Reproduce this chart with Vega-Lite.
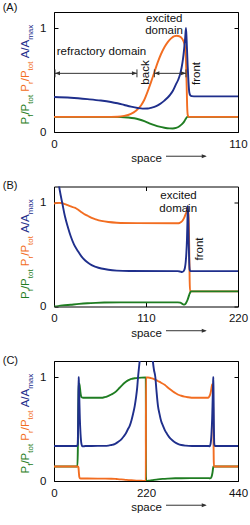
{
  "$schema": "https://vega.github.io/schema/vega-lite/v6.json",
  "padding": {"left": 2, "top": 1, "right": 2, "bottom": 2},
  "background": "white",
  "config": {
    "view": {"stroke": "#000", "strokeWidth": 1},
    "font": "Liberation Sans",
    "axis": {"grid": false, "domain": false, "tickColor": "#000", "tickSize": -4, "labelFont": "Liberation Sans", "labelFontSize": 11.5, "labelColor": "#111", "titleFont": "Liberation Sans", "titleFontSize": 11.5, "titleFontWeight": "normal", "titleColor": "#111", "labelOverlap": false, "labelFlush": false, "format": "d"},
    "text": {"font": "Liberation Sans"}
  },
  "datasets": {
    "curves": [
      {"p":"A","s":"Pf","x":0,"y":0.145},{"p":"A","s":"Pf","x":20,"y":0.145},{"p":"A","s":"Pf","x":36,"y":0.145},{"p":"A","s":"Pf","x":40,"y":0.144},{"p":"A","s":"Pf","x":44,"y":0.14},{"p":"A","s":"Pf","x":48,"y":0.132},{"p":"A","s":"Pf","x":51,"y":0.12},{"p":"A","s":"Pf","x":54,"y":0.104},{"p":"A","s":"Pf","x":57,"y":0.084},{"p":"A","s":"Pf","x":60,"y":0.066},{"p":"A","s":"Pf","x":63,"y":0.051},{"p":"A","s":"Pf","x":66,"y":0.041},{"p":"A","s":"Pf","x":69,"y":0.035},{"p":"A","s":"Pf","x":71,"y":0.034},{"p":"A","s":"Pf","x":73,"y":0.039},{"p":"A","s":"Pf","x":75,"y":0.055},{"p":"A","s":"Pf","x":76.5,"y":0.075},{"p":"A","s":"Pf","x":77.8,"y":0.1},{"p":"A","s":"Pf","x":78.8,"y":0.127},{"p":"A","s":"Pf","x":79.6,"y":0.145},{"p":"A","s":"Pf","x":110,"y":0.145},
      {"p":"A","s":"Pr","x":0,"y":0.145},{"p":"A","s":"Pr","x":30,"y":0.145},{"p":"A","s":"Pr","x":38,"y":0.147},{"p":"A","s":"Pr","x":42,"y":0.155},{"p":"A","s":"Pr","x":46,"y":0.175},{"p":"A","s":"Pr","x":49,"y":0.205},{"p":"A","s":"Pr","x":52,"y":0.255},{"p":"A","s":"Pr","x":54,"y":0.31},{"p":"A","s":"Pr","x":56,"y":0.39},{"p":"A","s":"Pr","x":58,"y":0.48},{"p":"A","s":"Pr","x":60,"y":0.575},{"p":"A","s":"Pr","x":62,"y":0.67},{"p":"A","s":"Pr","x":64,"y":0.75},{"p":"A","s":"Pr","x":66,"y":0.815},{"p":"A","s":"Pr","x":68,"y":0.865},{"p":"A","s":"Pr","x":70,"y":0.9},{"p":"A","s":"Pr","x":72,"y":0.922},{"p":"A","s":"Pr","x":73.5,"y":0.926},{"p":"A","s":"Pr","x":75,"y":0.92},{"p":"A","s":"Pr","x":76.5,"y":0.9},{"p":"A","s":"Pr","x":77.6,"y":0.865},{"p":"A","s":"Pr","x":78.3,"y":0.82},{"p":"A","s":"Pr","x":78.9,"y":0.68},{"p":"A","s":"Pr","x":79.3,"y":0.45},{"p":"A","s":"Pr","x":79.6,"y":0.25},{"p":"A","s":"Pr","x":80,"y":0.16},{"p":"A","s":"Pr","x":80.5,"y":0.145},{"p":"A","s":"Pr","x":110,"y":0.145},
      {"p":"A","s":"A","x":0,"y":0.336},{"p":"A","s":"A","x":10,"y":0.329},{"p":"A","s":"A","x":20,"y":0.316},{"p":"A","s":"A","x":28,"y":0.303},{"p":"A","s":"A","x":34,"y":0.289},{"p":"A","s":"A","x":38,"y":0.276},{"p":"A","s":"A","x":42,"y":0.26},{"p":"A","s":"A","x":46,"y":0.244},{"p":"A","s":"A","x":50,"y":0.231},{"p":"A","s":"A","x":53,"y":0.225},{"p":"A","s":"A","x":56,"y":0.226},{"p":"A","s":"A","x":58,"y":0.232},{"p":"A","s":"A","x":60,"y":0.242},{"p":"A","s":"A","x":62,"y":0.256},{"p":"A","s":"A","x":64,"y":0.276},{"p":"A","s":"A","x":66,"y":0.302},{"p":"A","s":"A","x":68,"y":0.332},{"p":"A","s":"A","x":69.5,"y":0.36},{"p":"A","s":"A","x":71,"y":0.395},{"p":"A","s":"A","x":72.9,"y":0.458},{"p":"A","s":"A","x":74.2,"y":0.5},{"p":"A","s":"A","x":75.3,"y":0.55},{"p":"A","s":"A","x":76.3,"y":0.62},{"p":"A","s":"A","x":77.1,"y":0.7},{"p":"A","s":"A","x":77.8,"y":0.8},{"p":"A","s":"A","x":78.4,"y":0.9},{"p":"A","s":"A","x":78.9,"y":1.0},{"p":"A","s":"A","x":79.3,"y":0.88},{"p":"A","s":"A","x":79.9,"y":0.64},{"p":"A","s":"A","x":80.4,"y":0.48},{"p":"A","s":"A","x":80.9,"y":0.38},{"p":"A","s":"A","x":81.5,"y":0.352},{"p":"A","s":"A","x":82.3,"y":0.345},{"p":"A","s":"A","x":85,"y":0.343},{"p":"A","s":"A","x":110,"y":0.343},
      {"p":"B","s":"Pr","x":0,"y":0.99},{"p":"B","s":"Pr","x":4,"y":0.997},{"p":"B","s":"Pr","x":8.8,"y":0.995},{"p":"B","s":"Pr","x":13,"y":0.985},{"p":"B","s":"Pr","x":17,"y":0.972},{"p":"B","s":"Pr","x":21,"y":0.96},{"p":"B","s":"Pr","x":24.7,"y":0.95},{"p":"B","s":"Pr","x":28,"y":0.935},{"p":"B","s":"Pr","x":32,"y":0.912},{"p":"B","s":"Pr","x":36,"y":0.89},{"p":"B","s":"Pr","x":40.7,"y":0.87},{"p":"B","s":"Pr","x":45,"y":0.852},{"p":"B","s":"Pr","x":50,"y":0.838},{"p":"B","s":"Pr","x":56.6,"y":0.823},{"p":"B","s":"Pr","x":65,"y":0.812},{"p":"B","s":"Pr","x":75,"y":0.806},{"p":"B","s":"Pr","x":100,"y":0.802},{"p":"B","s":"Pr","x":148,"y":0.8},{"p":"B","s":"Pr","x":150,"y":0.803},{"p":"B","s":"Pr","x":152,"y":0.812},{"p":"B","s":"Pr","x":154,"y":0.83},{"p":"B","s":"Pr","x":156,"y":0.86},{"p":"B","s":"Pr","x":157.5,"y":0.89},{"p":"B","s":"Pr","x":158.8,"y":0.915},{"p":"B","s":"Pr","x":159.8,"y":0.925},{"p":"B","s":"Pr","x":160.6,"y":0.9},{"p":"B","s":"Pr","x":161.2,"y":0.8},{"p":"B","s":"Pr","x":161.7,"y":0.55},{"p":"B","s":"Pr","x":162.2,"y":0.25},{"p":"B","s":"Pr","x":162.7,"y":0.145},{"p":"B","s":"Pr","x":220,"y":0.145},
      {"p":"B","s":"Pf","x":0,"y":0},{"p":"B","s":"Pf","x":5,"y":0.004},{"p":"B","s":"Pf","x":10,"y":0.009},{"p":"B","s":"Pf","x":20,"y":0.017},{"p":"B","s":"Pf","x":30,"y":0.025},{"p":"B","s":"Pf","x":40,"y":0.031},{"p":"B","s":"Pf","x":50,"y":0.035},{"p":"B","s":"Pf","x":60,"y":0.038},{"p":"B","s":"Pf","x":80,"y":0.04},{"p":"B","s":"Pf","x":120,"y":0.04},{"p":"B","s":"Pf","x":148,"y":0.04},{"p":"B","s":"Pf","x":151,"y":0.037},{"p":"B","s":"Pf","x":153,"y":0.028},{"p":"B","s":"Pf","x":155,"y":0.018},{"p":"B","s":"Pf","x":156.5,"y":0.02},{"p":"B","s":"Pf","x":158,"y":0.035},{"p":"B","s":"Pf","x":159.5,"y":0.06},{"p":"B","s":"Pf","x":161,"y":0.095},{"p":"B","s":"Pf","x":162,"y":0.12},{"p":"B","s":"Pf","x":163,"y":0.138},{"p":"B","s":"Pf","x":164,"y":0.145},{"p":"B","s":"Pf","x":220,"y":0.145},
      {"p":"B","s":"A","x":0,"y":1.55},{"p":"B","s":"A","x":3,"y":1.34},{"p":"B","s":"A","x":6,"y":1.16},{"p":"B","s":"A","x":8,"y":1.07},{"p":"B","s":"A","x":10,"y":0.99},{"p":"B","s":"A","x":13,"y":0.87},{"p":"B","s":"A","x":16.7,"y":0.76},{"p":"B","s":"A","x":20,"y":0.675},{"p":"B","s":"A","x":24,"y":0.595},{"p":"B","s":"A","x":28.7,"y":0.532},{"p":"B","s":"A","x":33,"y":0.48},{"p":"B","s":"A","x":37,"y":0.445},{"p":"B","s":"A","x":40.7,"y":0.42},{"p":"B","s":"A","x":45,"y":0.398},{"p":"B","s":"A","x":50,"y":0.381},{"p":"B","s":"A","x":56.6,"y":0.365},{"p":"B","s":"A","x":65,"y":0.353},{"p":"B","s":"A","x":75,"y":0.345},{"p":"B","s":"A","x":90,"y":0.341},{"p":"B","s":"A","x":148,"y":0.34},{"p":"B","s":"A","x":151,"y":0.336},{"p":"B","s":"A","x":153,"y":0.332},{"p":"B","s":"A","x":155,"y":0.34},{"p":"B","s":"A","x":156.5,"y":0.37},{"p":"B","s":"A","x":157.5,"y":0.43},{"p":"B","s":"A","x":158.3,"y":0.52},{"p":"B","s":"A","x":159,"y":0.65},{"p":"B","s":"A","x":159.5,"y":0.8},{"p":"B","s":"A","x":160,"y":0.97},{"p":"B","s":"A","x":160.5,"y":0.85},{"p":"B","s":"A","x":161.1,"y":0.6},{"p":"B","s":"A","x":161.7,"y":0.42},{"p":"B","s":"A","x":162.3,"y":0.35},{"p":"B","s":"A","x":163,"y":0.34},{"p":"B","s":"A","x":220,"y":0.34},
      {"p":"C","s":"Pf","x":0,"y":0.14},{"p":"C","s":"Pf","x":56,"y":0.14},{"p":"C","s":"Pf","x":57,"y":0.3},{"p":"C","s":"Pf","x":57.8,"y":0.6},{"p":"C","s":"Pf","x":58.6,"y":0.85},{"p":"C","s":"Pf","x":59.5,"y":0.92},{"p":"C","s":"Pf","x":60.5,"y":0.935},{"p":"C","s":"Pf","x":61.5,"y":0.915},{"p":"C","s":"Pf","x":63,"y":0.86},{"p":"C","s":"Pf","x":64.5,"y":0.82},{"p":"C","s":"Pf","x":66,"y":0.805},{"p":"C","s":"Pf","x":70,"y":0.8},{"p":"C","s":"Pf","x":90,"y":0.8},{"p":"C","s":"Pf","x":113,"y":0.8},{"p":"C","s":"Pf","x":121,"y":0.806},{"p":"C","s":"Pf","x":129,"y":0.817},{"p":"C","s":"Pf","x":137,"y":0.832},{"p":"C","s":"Pf","x":145,"y":0.85},{"p":"C","s":"Pf","x":151,"y":0.872},{"p":"C","s":"Pf","x":157,"y":0.897},{"p":"C","s":"Pf","x":163,"y":0.922},{"p":"C","s":"Pf","x":169,"y":0.945},{"p":"C","s":"Pf","x":175,"y":0.963},{"p":"C","s":"Pf","x":181,"y":0.976},{"p":"C","s":"Pf","x":187,"y":0.983},{"p":"C","s":"Pf","x":193,"y":0.988},{"p":"C","s":"Pf","x":201,"y":0.992},{"p":"C","s":"Pf","x":209,"y":0.994},{"p":"C","s":"Pf","x":219.5,"y":0.995},{"p":"C","s":"Pf","x":220,"y":0},{"p":"C","s":"Pf","x":225,"y":0.002},{"p":"C","s":"Pf","x":235,"y":0.008},{"p":"C","s":"Pf","x":248.7,"y":0.016},{"p":"C","s":"Pf","x":260,"y":0.02},{"p":"C","s":"Pf","x":272.6,"y":0.023},{"p":"C","s":"Pf","x":290,"y":0.026},{"p":"C","s":"Pf","x":304.5,"y":0.027},{"p":"C","s":"Pf","x":340,"y":0.028},{"p":"C","s":"Pf","x":370,"y":0.028},{"p":"C","s":"Pf","x":373,"y":0.025},{"p":"C","s":"Pf","x":375.5,"y":0.03},{"p":"C","s":"Pf","x":377.5,"y":0.05},{"p":"C","s":"Pf","x":379,"y":0.08},{"p":"C","s":"Pf","x":380.3,"y":0.12},{"p":"C","s":"Pf","x":381.2,"y":0.14},{"p":"C","s":"Pf","x":440,"y":0.14},
      {"p":"C","s":"Pr","x":0,"y":0.14},{"p":"C","s":"Pr","x":57.5,"y":0.14},{"p":"C","s":"Pr","x":58.5,"y":0.13},{"p":"C","s":"Pr","x":59.5,"y":0.08},{"p":"C","s":"Pr","x":60.5,"y":0.04},{"p":"C","s":"Pr","x":62,"y":0.025},{"p":"C","s":"Pr","x":64,"y":0.024},{"p":"C","s":"Pr","x":80,"y":0.024},{"p":"C","s":"Pr","x":110,"y":0.023},{"p":"C","s":"Pr","x":137,"y":0.022},{"p":"C","s":"Pr","x":150,"y":0.019},{"p":"C","s":"Pr","x":161,"y":0.016},{"p":"C","s":"Pr","x":173,"y":0.011},{"p":"C","s":"Pr","x":185,"y":0.007},{"p":"C","s":"Pr","x":197,"y":0.004},{"p":"C","s":"Pr","x":209,"y":0.002},{"p":"C","s":"Pr","x":219.5,"y":0},{"p":"C","s":"Pr","x":220,"y":0.995},{"p":"C","s":"Pr","x":225,"y":0.995},{"p":"C","s":"Pr","x":232,"y":0.99},{"p":"C","s":"Pr","x":240.7,"y":0.978},{"p":"C","s":"Pr","x":248,"y":0.962},{"p":"C","s":"Pr","x":256,"y":0.945},{"p":"C","s":"Pr","x":264.6,"y":0.925},{"p":"C","s":"Pr","x":272,"y":0.9},{"p":"C","s":"Pr","x":280,"y":0.875},{"p":"C","s":"Pr","x":288.6,"y":0.85},{"p":"C","s":"Pr","x":296,"y":0.832},{"p":"C","s":"Pr","x":304.5,"y":0.82},{"p":"C","s":"Pr","x":312,"y":0.812},{"p":"C","s":"Pr","x":320.4,"y":0.806},{"p":"C","s":"Pr","x":335,"y":0.8},{"p":"C","s":"Pr","x":368,"y":0.8},{"p":"C","s":"Pr","x":371,"y":0.81},{"p":"C","s":"Pr","x":374,"y":0.84},{"p":"C","s":"Pr","x":376.5,"y":0.89},{"p":"C","s":"Pr","x":378.3,"y":0.93},{"p":"C","s":"Pr","x":379.5,"y":0.92},{"p":"C","s":"Pr","x":380.5,"y":0.75},{"p":"C","s":"Pr","x":381.3,"y":0.45},{"p":"C","s":"Pr","x":382,"y":0.2},{"p":"C","s":"Pr","x":382.6,"y":0.14},{"p":"C","s":"Pr","x":440,"y":0.14},
      {"p":"C","s":"A","x":0,"y":0.337},{"p":"C","s":"A","x":54,"y":0.337},{"p":"C","s":"A","x":55.5,"y":0.337},{"p":"C","s":"A","x":56.8,"y":0.36},{"p":"C","s":"A","x":57.7,"y":0.55},{"p":"C","s":"A","x":58.5,"y":0.85},{"p":"C","s":"A","x":59,"y":1.0},{"p":"C","s":"A","x":59.5,"y":0.95},{"p":"C","s":"A","x":60.5,"y":0.8},{"p":"C","s":"A","x":61.8,"y":0.6},{"p":"C","s":"A","x":63.5,"y":0.45},{"p":"C","s":"A","x":65.5,"y":0.36},{"p":"C","s":"A","x":68,"y":0.333},{"p":"C","s":"A","x":75,"y":0.336},{"p":"C","s":"A","x":90,"y":0.337},{"p":"C","s":"A","x":120,"y":0.338},{"p":"C","s":"A","x":130,"y":0.34},{"p":"C","s":"A","x":137,"y":0.346},{"p":"C","s":"A","x":145,"y":0.355},{"p":"C","s":"A","x":153,"y":0.375},{"p":"C","s":"A","x":161,"y":0.4},{"p":"C","s":"A","x":167,"y":0.43},{"p":"C","s":"A","x":172,"y":0.46},{"p":"C","s":"A","x":177,"y":0.5},{"p":"C","s":"A","x":181,"y":0.53},{"p":"C","s":"A","x":185,"y":0.58},{"p":"C","s":"A","x":189,"y":0.645},{"p":"C","s":"A","x":193,"y":0.72},{"p":"C","s":"A","x":196,"y":0.8},{"p":"C","s":"A","x":199,"y":0.9},{"p":"C","s":"A","x":201,"y":1.0},{"p":"C","s":"A","x":203,"y":1.08},{"p":"C","s":"A","x":205,"y":1.16},{"p":"C","s":"A","x":207,"y":1.26},{"p":"C","s":"A","x":212,"y":1.6},{"p":"C","s":"A","x":216,"y":2.2},{"p":"C","s":"A","x":219,"y":2.8},{"p":"C","s":"A","x":221,"y":2.8},{"p":"C","s":"A","x":224,"y":2.3},{"p":"C","s":"A","x":228,"y":1.7},{"p":"C","s":"A","x":232,"y":1.4},{"p":"C","s":"A","x":234,"y":1.26},{"p":"C","s":"A","x":236.7,"y":1.14},{"p":"C","s":"A","x":239,"y":1.07},{"p":"C","s":"A","x":242.3,"y":1.0},{"p":"C","s":"A","x":245,"y":0.87},{"p":"C","s":"A","x":248.7,"y":0.72},{"p":"C","s":"A","x":252,"y":0.65},{"p":"C","s":"A","x":256,"y":0.58},{"p":"C","s":"A","x":260.7,"y":0.53},{"p":"C","s":"A","x":265,"y":0.49},{"p":"C","s":"A","x":270,"y":0.455},{"p":"C","s":"A","x":275,"y":0.425},{"p":"C","s":"A","x":280.6,"y":0.4},{"p":"C","s":"A","x":288,"y":0.375},{"p":"C","s":"A","x":296,"y":0.358},{"p":"C","s":"A","x":304.5,"y":0.346},{"p":"C","s":"A","x":315,"y":0.34},{"p":"C","s":"A","x":330,"y":0.337},{"p":"C","s":"A","x":370,"y":0.337},{"p":"C","s":"A","x":372,"y":0.333},{"p":"C","s":"A","x":374.5,"y":0.36},{"p":"C","s":"A","x":376.5,"y":0.45},{"p":"C","s":"A","x":378.2,"y":0.6},{"p":"C","s":"A","x":379.5,"y":0.8},{"p":"C","s":"A","x":380.5,"y":0.95},{"p":"C","s":"A","x":381,"y":1.0},{"p":"C","s":"A","x":381.5,"y":0.85},{"p":"C","s":"A","x":382.3,"y":0.55},{"p":"C","s":"A","x":383.2,"y":0.36},{"p":"C","s":"A","x":384.5,"y":0.337},{"p":"C","s":"A","x":440,"y":0.337}
    ],
    "ylab": [
      {"p":"A","s":"Pf","k":"main","t":"P","x":-14.77,"y":0.0721},{"p":"A","s":"Pf","k":"sub","t":"f","x":-12.37,"y":0.1459},{"p":"A","s":"Pf","k":"main","t":"/P","x":-14.77,"y":0.1672},{"p":"A","s":"Pf","k":"sub","t":"tot","x":-12.37,"y":0.2717},
      {"p":"A","s":"Pr","k":"main","t":"P","x":-14.77,"y":0.3881},{"p":"A","s":"Pr","k":"sub","t":"r","x":-12.37,"y":0.4618},{"p":"A","s":"Pr","k":"main","t":"/P","x":-14.77,"y":0.4875},{"p":"A","s":"Pr","k":"sub","t":"tot","x":-12.37,"y":0.592},
      {"p":"A","s":"A","k":"main","t":"A/A","x":-14.77,"y":0.7084},{"p":"A","s":"A","k":"sub","t":"max","x":-12.37,"y":0.8866},
      {"p":"B","s":"Pf","k":"main","t":"P","x":-29.53,"y":0.0721},{"p":"B","s":"Pf","k":"sub","t":"f","x":-24.75,"y":0.1459},{"p":"B","s":"Pf","k":"main","t":"/P","x":-29.53,"y":0.1672},{"p":"B","s":"Pf","k":"sub","t":"tot","x":-24.75,"y":0.2717},
      {"p":"B","s":"Pr","k":"main","t":"P","x":-29.53,"y":0.3881},{"p":"B","s":"Pr","k":"sub","t":"r","x":-24.75,"y":0.4618},{"p":"B","s":"Pr","k":"main","t":"/P","x":-29.53,"y":0.4875},{"p":"B","s":"Pr","k":"sub","t":"tot","x":-24.75,"y":0.592},
      {"p":"B","s":"A","k":"main","t":"A/A","x":-29.53,"y":0.7084},{"p":"B","s":"A","k":"sub","t":"max","x":-24.75,"y":0.8866},
      {"p":"C","s":"Pf","k":"main","t":"P","x":-59.06,"y":0.0721},{"p":"C","s":"Pf","k":"sub","t":"f","x":-49.5,"y":0.1459},{"p":"C","s":"Pf","k":"main","t":"/P","x":-59.06,"y":0.1672},{"p":"C","s":"Pf","k":"sub","t":"tot","x":-49.5,"y":0.2717},
      {"p":"C","s":"Pr","k":"main","t":"P","x":-59.06,"y":0.3881},{"p":"C","s":"Pr","k":"sub","t":"r","x":-49.5,"y":0.4618},{"p":"C","s":"Pr","k":"main","t":"/P","x":-59.06,"y":0.4875},{"p":"C","s":"Pr","k":"sub","t":"tot","x":-49.5,"y":0.592},
      {"p":"C","s":"A","k":"main","t":"A/A","x":-59.06,"y":0.7084},{"p":"C","s":"A","k":"sub","t":"max","x":-49.5,"y":0.8866}
    ],
    "notes": [
      {"p":"A","k":"h","t":"refractory domain","x":28.4,"y":0.74},
      {"p":"A","k":"h","t":"excited","x":65.9,"y":1.0625},
      {"p":"A","k":"h","t":"domain","x":65.8,"y":0.939},
      {"p":"A","k":"r","t":"back","x":57.0,"y":0.572},
      {"p":"A","k":"r","t":"front","x":87.2,"y":0.5625},
      {"p":"A","k":"id","t":"(A)","x":-30.7,"y":1.163},
      {"p":"B","k":"h","t":"excited","x":148.9,"y":1.034},
      {"p":"B","k":"h","t":"domain","x":148.5,"y":0.913},
      {"p":"B","k":"r","t":"front","x":177.8,"y":0.553},
      {"p":"B","k":"id","t":"(B)","x":-61.3,"y":1.13},
      {"p":"C","k":"id","t":"(C)","x":-122.6,"y":1.125}
    ],
    "arrows": [
      {"p":"A","k":"h","x":0.6,"x2":49.6,"y":0.564},
      {"p":"A","k":"h","x":60.0,"x2":78.9,"y":0.564},
      {"p":"A","k":"h","x":66.96,"x2":90.5,"y":-0.233},
      {"p":"B","k":"h","x":133.9,"x2":181.0,"y":-0.233},
      {"p":"C","k":"h","x":267.9,"x2":362.0,"y":-0.233},
      {"p":"A","k":"v","x":0.6,"y":0.526,"y2":0.602},
      {"p":"A","k":"v","x":49.6,"y":0.526,"y2":0.602},
      {"p":"A","k":"v","x":60.0,"y":0.526,"y2":0.602},
      {"p":"A","k":"v","x":78.9,"y":0.526,"y2":0.602}
    ],
    "heads": [
      {"p":"A","d":"L","x":0.6,"y":0.564},
      {"p":"A","d":"R","x":49.6,"y":0.564},
      {"p":"A","d":"L","x":60.0,"y":0.564},
      {"p":"A","d":"R","x":78.9,"y":0.564},
      {"p":"A","d":"R","x":91.3,"y":-0.233},
      {"p":"B","d":"R","x":182.6,"y":-0.233},
      {"p":"C","d":"R","x":365.3,"y":-0.233}
    ]
  },
  "spacing": 54.5,
  "bounds": "flush",
  "vconcat": [
    {
      "width": 184, "height": 120,
      "encoding": {
        "x": {"field": "x", "type": "quantitative", "scale": {"domain": [0, 110], "nice": false, "zero": false}, "axis": null},
        "y": {"field": "y", "type": "quantitative", "scale": {"domain": [0, 1.154], "nice": false, "zero": false}, "axis": null}
      },
      "layer": [
        {"data": {"name": "curves"}, "transform": [{"filter": "datum.p=='A' && datum.s=='Pf'"}],
         "mark": {"type": "line", "color": "#1f7d22", "strokeWidth": 1.9, "clip": true, "interpolate": "monotone"},
         "encoding": {
           "x": {"field": "x", "type": "quantitative", "scale": {"domain": [0, 110], "nice": false, "zero": false}, "axis": {"orient": "bottom", "values": [0, 110], "title": "space", "labelPadding": 10, "titlePadding": 3}},
           "y": {"field": "y", "type": "quantitative", "scale": {"domain": [0, 1.154], "nice": false, "zero": false}, "axis": {"orient": "left", "values": [0, 1], "title": null, "labelPadding": 12}}
         }},
        {"data": {"name": "curves"}, "transform": [{"filter": "datum.p=='A' && datum.s=='Pr'"}],
         "mark": {"type": "line", "color": "#f26d21", "strokeWidth": 1.9, "clip": true, "interpolate": "monotone"},
         "encoding": {
           "x": {"field": "x", "type": "quantitative", "scale": {"domain": [0, 110], "nice": false, "zero": false}, "axis": {"orient": "top", "values": [0, 110], "labels": false, "title": null}},
           "y": {"field": "y", "type": "quantitative", "scale": {"domain": [0, 1.154], "nice": false, "zero": false}, "axis": {"orient": "right", "values": [0, 1], "labels": false, "title": null}}
         }},
        {"data": {"name": "curves"}, "transform": [{"filter": "datum.p=='A' && datum.s=='A'"}],
         "mark": {"type": "line", "color": "#1f2f8c", "strokeWidth": 1.9, "clip": true, "interpolate": "monotone"}},
        {"data": {"name": "ylab"}, "transform": [{"filter": "datum.p=='A' && datum.k=='main'"}],
         "mark": {"type": "text", "angle": 270, "align": "left", "baseline": "alphabetic", "fontSize": 11.5},
         "encoding": {"text": {"field": "t"}, "color": {"field": "s", "type": "nominal", "scale": {"domain": ["Pf", "Pr", "A"], "range": ["#1f7d22", "#f26d21", "#1f2f8c"]}, "legend": null}}},
        {"data": {"name": "ylab"}, "transform": [{"filter": "datum.p=='A' && datum.k=='sub'"}],
         "mark": {"type": "text", "angle": 270, "align": "left", "baseline": "alphabetic", "fontSize": 8},
         "encoding": {"text": {"field": "t"}, "color": {"field": "s", "type": "nominal", "scale": {"domain": ["Pf", "Pr", "A"], "range": ["#1f7d22", "#f26d21", "#1f2f8c"]}, "legend": null}}},
        {"data": {"name": "notes"}, "transform": [{"filter": "datum.p=='A' && datum.k=='h'"}],
         "mark": {"type": "text", "align": "center", "baseline": "alphabetic", "fontSize": 11.5, "color": "#111"},
         "encoding": {"text": {"field": "t"}}},
        {"data": {"name": "notes"}, "transform": [{"filter": "datum.p=='A' && datum.k=='r'"}],
         "mark": {"type": "text", "angle": 270, "align": "center", "baseline": "alphabetic", "fontSize": 11.5, "color": "#111"},
         "encoding": {"text": {"field": "t"}}},
        {"data": {"name": "notes"}, "transform": [{"filter": "datum.p=='A' && datum.k=='id'"}],
         "mark": {"type": "text", "align": "left", "baseline": "alphabetic", "fontSize": 11, "color": "#111"},
         "encoding": {"text": {"field": "t"}}},
        {"data": {"name": "arrows"}, "transform": [{"filter": "datum.p=='A' && datum.k=='h'"}],
         "mark": {"type": "rule", "color": "#333", "strokeWidth": 1},
         "encoding": {"x2": {"field": "x2"}}},
        {"data": {"name": "arrows"}, "transform": [{"filter": "datum.p=='A' && datum.k=='v'"}],
         "mark": {"type": "rule", "color": "#333", "strokeWidth": 1},
         "encoding": {"y2": {"field": "y2"}}},
        {"data": {"name": "heads"}, "transform": [{"filter": "datum.p=='A'"}],
         "mark": {"type": "point", "filled": true, "color": "#333", "size": 25, "opacity": 1},
         "encoding": {"shape": {"field": "d", "type": "nominal", "scale": {"domain": ["L", "R"], "range": ["M0,0L2,-0.8L2,0.8Z", "M0,0L-2,-0.8L-2,0.8Z"]}, "legend": null}}}
      ],
      "resolve": {"axis": {"x": "independent", "y": "independent"}}
    },
    {
      "width": 184, "height": 120,
      "encoding": {
        "x": {"field": "x", "type": "quantitative", "scale": {"domain": [0, 220], "nice": false, "zero": false}, "axis": null},
        "y": {"field": "y", "type": "quantitative", "scale": {"domain": [0, 1.154], "nice": false, "zero": false}, "axis": null}
      },
      "layer": [
        {"data": {"name": "curves"}, "transform": [{"filter": "datum.p=='B' && datum.s=='Pr'"}],
         "mark": {"type": "line", "color": "#f26d21", "strokeWidth": 1.9, "clip": true, "interpolate": "monotone"},
         "encoding": {
           "x": {"field": "x", "type": "quantitative", "scale": {"domain": [0, 220], "nice": false, "zero": false}, "axis": {"orient": "bottom", "values": [0, 110, 220], "title": "space", "labelPadding": 10, "titlePadding": 3}},
           "y": {"field": "y", "type": "quantitative", "scale": {"domain": [0, 1.154], "nice": false, "zero": false}, "axis": {"orient": "left", "values": [0, 1], "title": null, "labelPadding": 12}}
         }},
        {"data": {"name": "curves"}, "transform": [{"filter": "datum.p=='B' && datum.s=='Pf'"}],
         "mark": {"type": "line", "color": "#1f7d22", "strokeWidth": 1.9, "clip": true, "interpolate": "monotone"},
         "encoding": {
           "x": {"field": "x", "type": "quantitative", "scale": {"domain": [0, 220], "nice": false, "zero": false}, "axis": {"orient": "top", "values": [0, 110, 220], "labels": false, "title": null}},
           "y": {"field": "y", "type": "quantitative", "scale": {"domain": [0, 1.154], "nice": false, "zero": false}, "axis": {"orient": "right", "values": [0, 1], "labels": false, "title": null}}
         }},
        {"data": {"name": "curves"}, "transform": [{"filter": "datum.p=='B' && datum.s=='A'"}],
         "mark": {"type": "line", "color": "#1f2f8c", "strokeWidth": 1.9, "clip": true, "interpolate": "monotone"}},
        {"data": {"name": "ylab"}, "transform": [{"filter": "datum.p=='B' && datum.k=='main'"}],
         "mark": {"type": "text", "angle": 270, "align": "left", "baseline": "alphabetic", "fontSize": 11.5},
         "encoding": {"text": {"field": "t"}, "color": {"field": "s", "type": "nominal", "scale": {"domain": ["Pf", "Pr", "A"], "range": ["#1f7d22", "#f26d21", "#1f2f8c"]}, "legend": null}}},
        {"data": {"name": "ylab"}, "transform": [{"filter": "datum.p=='B' && datum.k=='sub'"}],
         "mark": {"type": "text", "angle": 270, "align": "left", "baseline": "alphabetic", "fontSize": 8},
         "encoding": {"text": {"field": "t"}, "color": {"field": "s", "type": "nominal", "scale": {"domain": ["Pf", "Pr", "A"], "range": ["#1f7d22", "#f26d21", "#1f2f8c"]}, "legend": null}}},
        {"data": {"name": "notes"}, "transform": [{"filter": "datum.p=='B' && datum.k=='h'"}],
         "mark": {"type": "text", "align": "center", "baseline": "alphabetic", "fontSize": 11.5, "color": "#111"},
         "encoding": {"text": {"field": "t"}}},
        {"data": {"name": "notes"}, "transform": [{"filter": "datum.p=='B' && datum.k=='r'"}],
         "mark": {"type": "text", "angle": 270, "align": "center", "baseline": "alphabetic", "fontSize": 11.5, "color": "#111"},
         "encoding": {"text": {"field": "t"}}},
        {"data": {"name": "notes"}, "transform": [{"filter": "datum.p=='B' && datum.k=='id'"}],
         "mark": {"type": "text", "align": "left", "baseline": "alphabetic", "fontSize": 11, "color": "#111"},
         "encoding": {"text": {"field": "t"}}},
        {"data": {"name": "arrows"}, "transform": [{"filter": "datum.p=='B' && datum.k=='h'"}],
         "mark": {"type": "rule", "color": "#333", "strokeWidth": 1},
         "encoding": {"x2": {"field": "x2"}}},
        {"data": {"name": "heads"}, "transform": [{"filter": "datum.p=='B'"}],
         "mark": {"type": "point", "filled": true, "color": "#333", "size": 25, "opacity": 1},
         "encoding": {"shape": {"field": "d", "type": "nominal", "scale": {"domain": ["L", "R"], "range": ["M0,0L2,-0.8L2,0.8Z", "M0,0L-2,-0.8L-2,0.8Z"]}, "legend": null}}}
      ],
      "resolve": {"axis": {"x": "independent", "y": "independent"}}
    },
    {
      "width": 184, "height": 120,
      "encoding": {
        "x": {"field": "x", "type": "quantitative", "scale": {"domain": [0, 440], "nice": false, "zero": false}, "axis": null},
        "y": {"field": "y", "type": "quantitative", "scale": {"domain": [0, 1.154], "nice": false, "zero": false}, "axis": null}
      },
      "layer": [
        {"data": {"name": "curves"}, "transform": [{"filter": "datum.p=='C' && datum.s=='Pf'"}],
         "mark": {"type": "line", "color": "#1f7d22", "strokeWidth": 1.9, "clip": true, "interpolate": "monotone"},
         "encoding": {
           "x": {"field": "x", "type": "quantitative", "scale": {"domain": [0, 440], "nice": false, "zero": false}, "axis": {"orient": "bottom", "values": [0, 220, 440], "title": "space", "labelPadding": 10, "titlePadding": 3}},
           "y": {"field": "y", "type": "quantitative", "scale": {"domain": [0, 1.154], "nice": false, "zero": false}, "axis": {"orient": "left", "values": [0, 1], "title": null, "labelPadding": 12}}
         }},
        {"data": {"name": "curves"}, "transform": [{"filter": "datum.p=='C' && datum.s=='Pr'"}],
         "mark": {"type": "line", "color": "#f26d21", "strokeWidth": 1.9, "clip": true, "interpolate": "monotone"},
         "encoding": {
           "x": {"field": "x", "type": "quantitative", "scale": {"domain": [0, 440], "nice": false, "zero": false}, "axis": {"orient": "top", "values": [0, 220, 440], "labels": false, "title": null}},
           "y": {"field": "y", "type": "quantitative", "scale": {"domain": [0, 1.154], "nice": false, "zero": false}, "axis": {"orient": "right", "values": [0, 1], "labels": false, "title": null}}
         }},
        {"data": {"name": "curves"}, "transform": [{"filter": "datum.p=='C' && datum.s=='A'"}],
         "mark": {"type": "line", "color": "#1f2f8c", "strokeWidth": 1.9, "clip": true, "interpolate": "monotone"}},
        {"data": {"name": "ylab"}, "transform": [{"filter": "datum.p=='C' && datum.k=='main'"}],
         "mark": {"type": "text", "angle": 270, "align": "left", "baseline": "alphabetic", "fontSize": 11.5},
         "encoding": {"text": {"field": "t"}, "color": {"field": "s", "type": "nominal", "scale": {"domain": ["Pf", "Pr", "A"], "range": ["#1f7d22", "#f26d21", "#1f2f8c"]}, "legend": null}}},
        {"data": {"name": "ylab"}, "transform": [{"filter": "datum.p=='C' && datum.k=='sub'"}],
         "mark": {"type": "text", "angle": 270, "align": "left", "baseline": "alphabetic", "fontSize": 8},
         "encoding": {"text": {"field": "t"}, "color": {"field": "s", "type": "nominal", "scale": {"domain": ["Pf", "Pr", "A"], "range": ["#1f7d22", "#f26d21", "#1f2f8c"]}, "legend": null}}},
        {"data": {"name": "notes"}, "transform": [{"filter": "datum.p=='C' && datum.k=='id'"}],
         "mark": {"type": "text", "align": "left", "baseline": "alphabetic", "fontSize": 11, "color": "#111"},
         "encoding": {"text": {"field": "t"}}},
        {"data": {"name": "arrows"}, "transform": [{"filter": "datum.p=='C' && datum.k=='h'"}],
         "mark": {"type": "rule", "color": "#333", "strokeWidth": 1},
         "encoding": {"x2": {"field": "x2"}}},
        {"data": {"name": "heads"}, "transform": [{"filter": "datum.p=='C'"}],
         "mark": {"type": "point", "filled": true, "color": "#333", "size": 25, "opacity": 1},
         "encoding": {"shape": {"field": "d", "type": "nominal", "scale": {"domain": ["L", "R"], "range": ["M0,0L2,-0.8L2,0.8Z", "M0,0L-2,-0.8L-2,0.8Z"]}, "legend": null}}}
      ],
      "resolve": {"axis": {"x": "independent", "y": "independent"}}
    }
  ]
}
